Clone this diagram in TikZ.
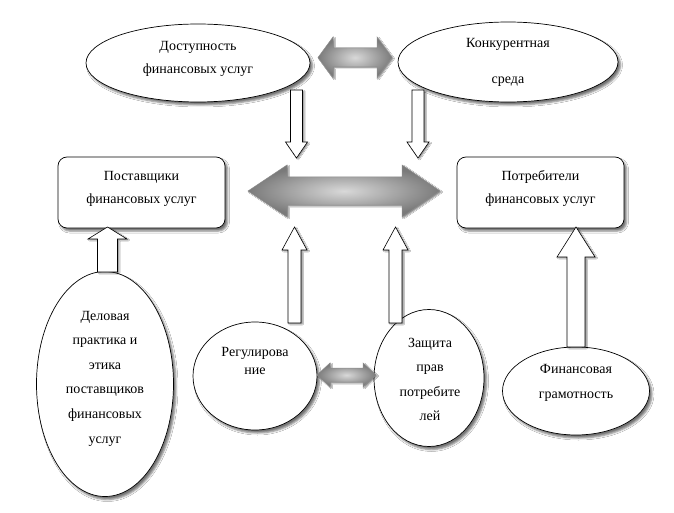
\documentclass[tikz,border=0pt]{standalone}
\usepackage{fontspec}
\setmainfont{Liberation Serif}
\usetikzlibrary{shapes.geometric,shadows.blur}
\begin{document}
\begin{tikzpicture}[x=1pt,y=-1pt,
  shadowed/.style={blur shadow={shadow xshift=2.5pt,shadow yshift=-3pt,shadow blur radius=2pt,shadow opacity=55}},
  smallshadow/.style={blur shadow={shadow xshift=1.5pt,shadow yshift=-1pt,shadow blur radius=1pt,shadow opacity=45}},
  oval/.style={ellipse,draw=black,line width=0.7pt,fill=white,inner sep=0pt,shadowed},
  box/.style={rectangle,rounded corners=9pt,draw=black,line width=0.7pt,fill=white,inner sep=0pt,shadowed,minimum width=167pt,minimum height=71pt},
  txt/.style={align=center,inner sep=0pt,font=\fontsize{14}{23}\selectfont},
  blockarrow/.style={draw=black,line width=0.6pt,fill=white,line join=miter,smallshadow},
  grayarrow/.style={draw=black!45,line width=0.5pt,line join=miter,inner color=black!15,outer color=black!52,smallshadow}
]
\useasboundingbox (0,0) rectangle (674,513);
\fill[white] (0,0) rectangle (674,513);

% ellipses
\node[oval,minimum width=224pt,minimum height=78pt] (e1) at (198,63) {};
\node[txt] (e1t) at (198,58.5) {Доступность\\финансовых услуг};
\node[oval,minimum width=220pt,minimum height=80pt] (e2) at (508,62) {};
\node[txt,font=\fontsize{14}{36}\selectfont] (e2t) at (508,62) {Конкурентная\\среда};

% boxes
\node[box] (b1) at (141.5,192.5) {};
\node[txt] (b1t) at (141.5,188.5) {Поставщики\\финансовых услуг};
\node[box] (b2) at (540.5,192.5) {};
\node[txt] (b2t) at (540.5,188.5) {Потребители\\финансовых услуг};

% bottom ellipses
\node[oval,minimum width=137pt,minimum height=225pt] (e3) at (105,384) {};
\node[txt,font=\fontsize{14}{24.6}\selectfont] (e3t) at (105,378.5) {Деловая\\практика и\\этика\\поставщиков\\финансовых\\услуг};
\node[oval,minimum width=124pt,minimum height=108pt] (e4) at (255,376) {};
\node[txt,font=\fontsize{14}{18}\selectfont] (e4t) at (255,361) {Регулирова\\ние};
\node[oval,minimum width=110pt,minimum height=137pt] (e5) at (429,378) {};
\node[txt,font=\fontsize{14}{24.5}\selectfont] (e5t) at (430,379.5) {Защита\\прав\\потребите\\лей};
\node[oval,minimum width=147pt,minimum height=88pt] (e6) at (576,391) {};
\node[txt,font=\fontsize{14}{25}\selectfont] (e6t) at (576,382.5) {Финансовая\\грамотность};

% gray double arrows
\shadedraw[grayarrow] (318,57.5) -- (333,37) -- (333,48) -- (377,48) -- (377,37) -- (392,57.5)
  -- (377,78) -- (377,67) -- (333,67) -- (333,78) -- cycle;
\shadedraw[grayarrow] (248,191) -- (287,165) -- (287,177) -- (402,177) -- (402,165) -- (440,191)
  -- (402,217) -- (402,205) -- (287,205) -- (287,217) -- cycle;
\shadedraw[grayarrow] (317,375) -- (330,363) -- (330,368) -- (363,368) -- (363,363) -- (376,375)
  -- (363,387) -- (363,382) -- (330,382) -- (330,387) -- cycle;

% down arrows
\path[blockarrow] (290.5,90) -- (302.5,90) -- (302.5,142) -- (307.5,142) -- (296.5,158) -- (285.5,142) -- (290.5,142) -- cycle;
\path[blockarrow] (412,90) -- (424,90) -- (424,142) -- (429,142) -- (418,158) -- (407,142) -- (412,142) -- cycle;

% up arrows (middle)
\path[blockarrow] (288,323) -- (301,323) -- (301,250) -- (307,250) -- (294.5,227) -- (282,250) -- (288,250) -- cycle;
\path[blockarrow] (389,323) -- (402,323) -- (402,250) -- (408,250) -- (395.5,227) -- (383,250) -- (389,250) -- cycle;

% left up arrow
\path[blockarrow] (97.5,272) -- (117.5,272) -- (117.5,239) -- (127,239) -- (107.5,227) -- (88,239) -- (97.5,239) -- cycle;

% right up arrow
\path[blockarrow] (567,347) -- (585,347) -- (585,257) -- (595,257) -- (576,227) -- (557,257) -- (567,257) -- cycle;
\end{tikzpicture}
\end{document}
